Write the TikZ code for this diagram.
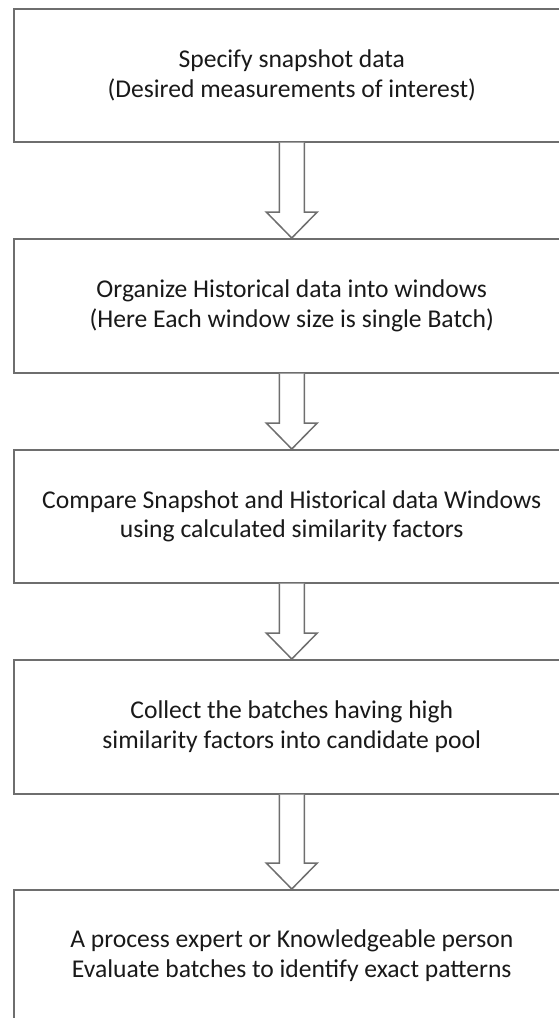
\documentclass[tikz,border=0pt]{standalone}
\usepackage{fontspec}
\setmainfont{Carlito}
\usetikzlibrary{calc}
\definecolor{edge}{HTML}{6E6E6E}
\tikzset{
  stepbox/.style={draw=edge, line width=1.5pt, rectangle, minimum width=556pt, anchor=north west,
    align=center, inner sep=0pt, font=\fontsize{25.6pt}{29.5pt}\selectfont, text=black!90},
  blockarr/.style={draw=edge, line width=1.5pt, fill=white, line join=miter}
}
\begin{document}
\begin{tikzpicture}[x=1pt,y=1pt]
\useasboundingbox (0,0) rectangle (558,-1018);
\node[stepbox, minimum height=133pt] (b1) at (13,-8) {Specify snapshot data\\(Desired measurements of interest)};
\node[stepbox, minimum height=134pt] (b2) at (13,-238) {Organize Historical data into windows\\(Here Each window size is single Batch)};
\node[stepbox, minimum height=133pt] (b3) at (13,-449) {Compare Snapshot and Historical data Windows\\using calculated similarity factors};
\node[stepbox, minimum height=134pt] (b4) at (13,-659) {Collect the batches having high\\similarity factors into candidate pool};
\node[stepbox, minimum height=132pt] (b5) at (13,-889) {A process expert or Knowledgeable person\\Evaluate batches to identify exact patterns};
\foreach \a/\b in {b1/b2,b2/b3,b3/b4,b4/b5}{
  \draw[blockarr] let \p1=(\a.south), \p2=(\b.north) in
    (\x1-12.5,\y1) -- (\x1-12.5,\y2+26) -- (\x1-25.5,\y2+26) -- (\x2,\y2)
    -- (\x1+25.5,\y2+26) -- (\x1+12.5,\y2+26) -- (\x1+12.5,\y1);
}
\end{tikzpicture}
\end{document}
